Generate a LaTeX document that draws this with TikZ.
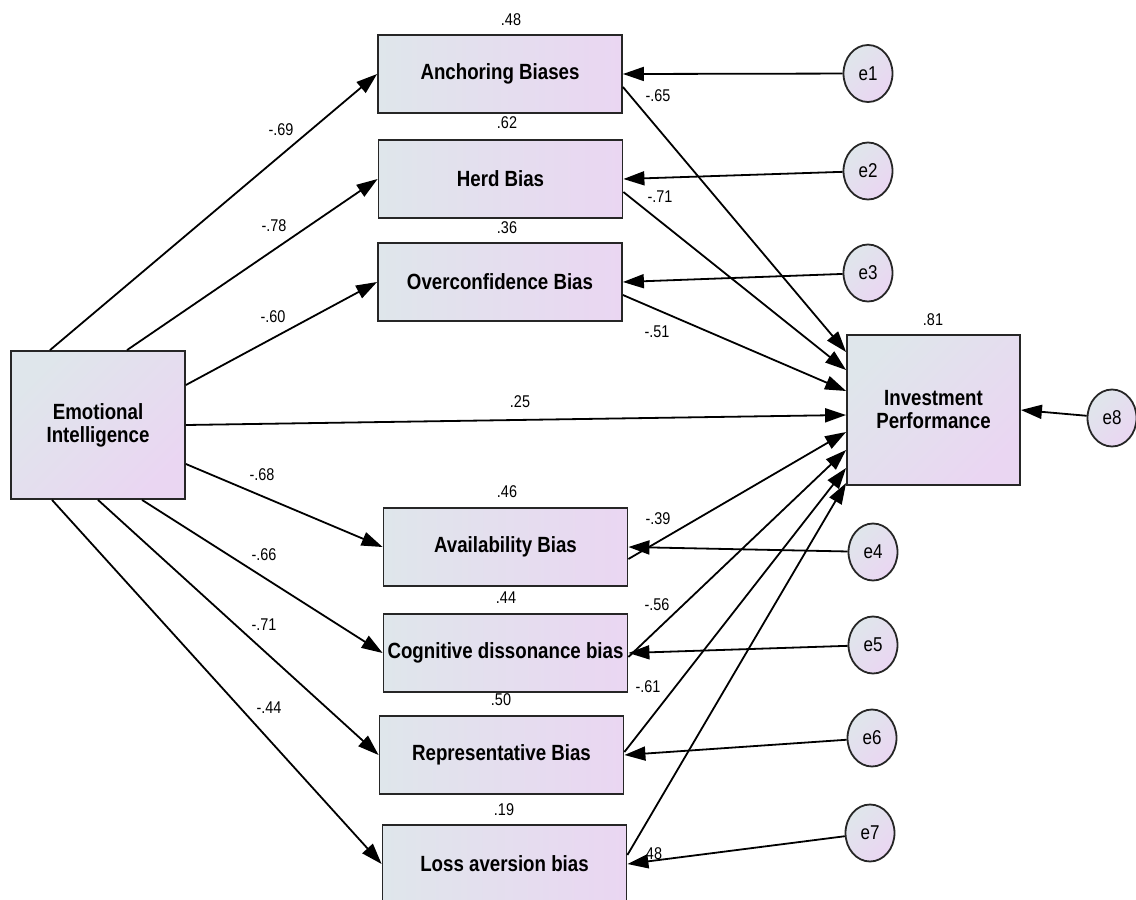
\documentclass[tikz,border=0pt]{standalone}
\usepackage{fontspec}
\setmainfont{Liberation Sans}[FakeStretch=0.85]
\usetikzlibrary{arrows.meta,shapes.geometric}

\definecolor{shadeL}{RGB}{223,230,235}
\definecolor{shadeR}{RGB}{234,214,242}

\tikzset{
  varbox/.style={draw=black!85, line width=1.8pt, left color=shadeL, right color=shadeR,
    shading angle=90, font=\fontsize{22}{23}\selectfont\bfseries, align=center, inner sep=0pt},
  biasbox/.style={varbox, minimum width=244pt, minimum height=78pt},
  bigbox/.style={varbox, shading angle=45},
  errc/.style={ellipse, draw=black!85, line width=1.8pt, left color=shadeL, right color=shadeR,
    shading angle=45, minimum width=49pt, minimum height=57pt, inner sep=0pt,
    font=\fontsize{20}{22}\selectfont},
  link/.style={line width=1.8pt, -{Triangle[length=21pt,width=14pt]}},
  coef/.style={font=\fontsize{17}{19}\selectfont, inner sep=0pt},
}

\begin{document}
\begin{tikzpicture}[x=1pt,y=-1pt]
\clip (0,0) rectangle (1136,900);

% exogenous and outcome variables
\node[bigbox, minimum width=174pt, minimum height=148pt] (EI) at (98,425) {Emotional\\Intelligence};
\node[bigbox, minimum width=173pt, minimum height=150pt] (IP) at (933.5,410) {Investment\\Performance};

% mediating biases
\node[biasbox] (anch)  at (500,74)    {Anchoring Biases};
\node[biasbox] (herd)  at (500.5,179) {Herd Bias};
\node[biasbox] (over)  at (500,282)   {Overconfidence Bias};
\node[biasbox] (avail) at (505.5,547) {Availability Bias};
\node[biasbox] (cog)   at (505.5,653) {Cognitive dissonance bias};
\node[biasbox] (rep)   at (501.5,755) {Representative Bias};
\node[biasbox] (loss)  at (504.5,864) {Loss aversion bias};

% error terms
\node[errc] (e1) at (868,73.5) {e1};
\node[errc] (e2) at (868,171)  {e2};
\node[errc] (e3) at (868,273)  {e3};
\node[errc] (e4) at (873,552)  {e4};
\node[errc] (e5) at (873,645)  {e5};
\node[errc] (e6) at (872,738)  {e6};
\node[errc] (e7) at (870,833)  {e7};
\node[errc] (e8) at (1112,418) {e8};

% squared multiple correlations
\node[coef] at (511,20)  {.48};
\node[coef] at (507,123) {.62};
\node[coef] at (507,228) {.36};
\node[coef] at (507,492) {.46};
\node[coef] at (506,598) {.44};
\node[coef] at (501,700) {.50};
\node[coef] at (504,810) {.19};
\node[coef] at (933,320) {.81};

% path coefficients
\node[coef] at (281,130) {-.69};
\node[coef] at (274,226) {-.78};
\node[coef] at (273,317) {-.60};
\node[coef] at (520,402) {.25};
\node[coef] at (262,475) {-.68};
\node[coef] at (264,555) {-.66};
\node[coef] at (264,625) {-.71};
\node[coef] at (269,708) {-.44};
\node[coef] at (658,96)  {-.65};
\node[coef] at (660,197) {-.71};
\node[coef] at (657,332) {-.51};
\node[coef] at (658,519) {-.39};
\node[coef] at (657,605) {-.56};
\node[coef] at (648,687) {-.61};
\node[coef] at (652,854) {.48};

% emotional intelligence -> biases
\draw[link] ([xshift=-48pt]EI.north) -- (anch.west);
\draw[link] ([xshift=29pt]EI.north) -- (herd.west);
\draw[link] ([yshift=40pt]EI.east) -- (over.west);
\draw[link] (EI.east) -- ([yshift=-5pt]IP.west);
\draw[link] ([yshift=-39pt]EI.east) -- (avail.west);
\draw[link] ([xshift=44pt]EI.south) -- (cog.west);
\draw[link] (EI.south) -- (rep.west);
\draw[link] ([xshift=-46pt]EI.south) -- (loss.west);

% biases -> investment performance
\draw[link] ([yshift=-13pt]anch.east) -- ([yshift=58pt]IP.west);
\draw[link] ([yshift=-13pt]herd.east) -- ([yshift=40pt]IP.west);
\draw[link] ([yshift=-13pt]over.east) -- ([yshift=19pt]IP.west);
\draw[link] ([yshift=-12pt]avail.east) -- ([yshift=-22pt]IP.west);
\draw[link] ([yshift=-4pt]cog.east) -- ([yshift=-40pt]IP.west);
\draw[link] ([yshift=3pt]rep.east) -- ([yshift=-58pt]IP.west);
\draw[link] ([yshift=9pt]loss.east) -- ([yshift=-73pt]IP.west);

% error terms -> variables
\draw[link] (e1) -- (anch.east);
\draw[link] (e2) -- (herd.east);
\draw[link] (e3) -- (over.east);
\draw[link] (e4) -- (avail.east);
\draw[link] (e5) -- (cog.east);
\draw[link] (e6) -- (rep.east);
\draw[link] (e7) -- (loss.east);
\draw[link] (e8) -- (IP.east);
\end{tikzpicture}
\end{document}
